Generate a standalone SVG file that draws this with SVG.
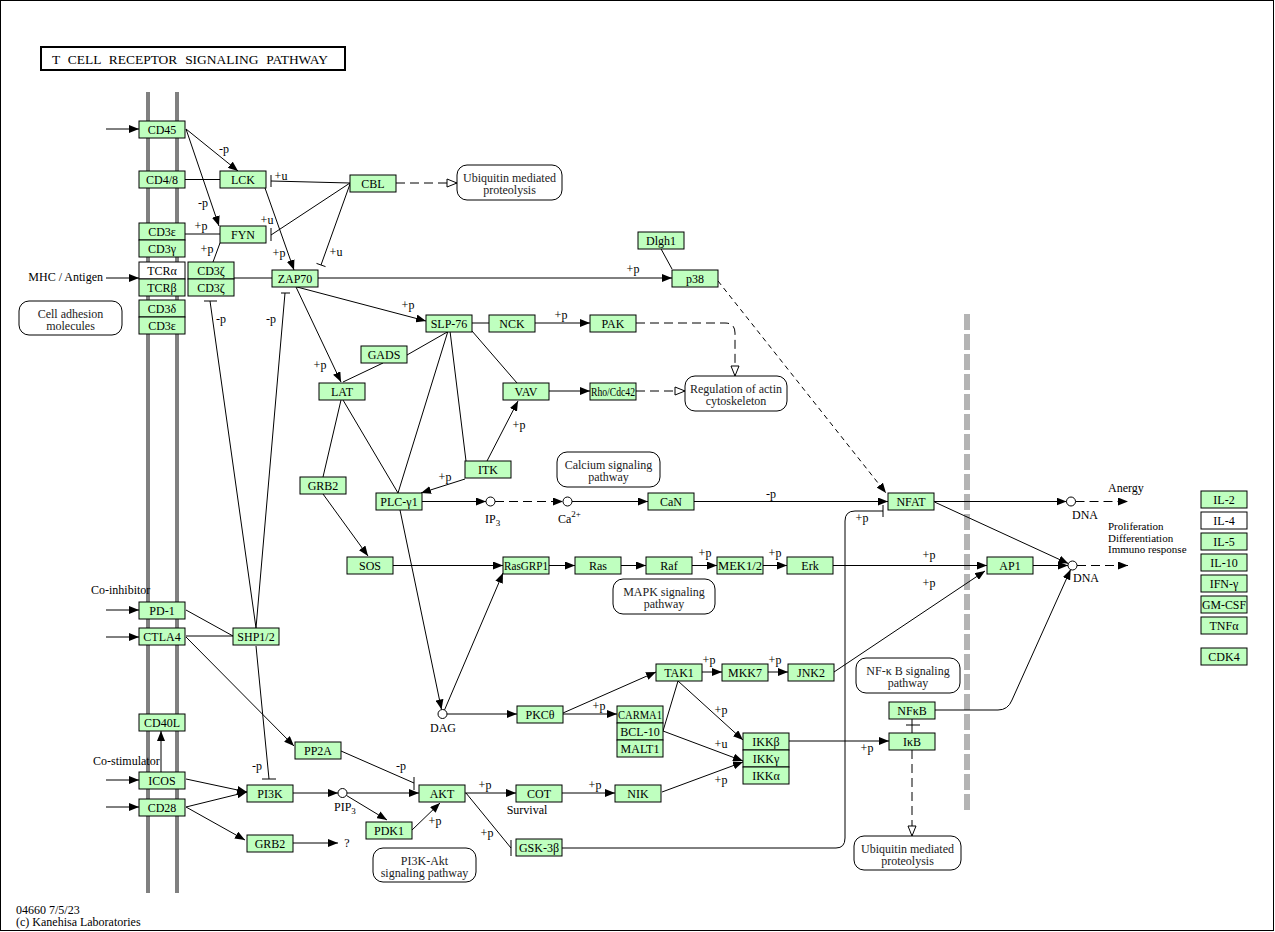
<svg xmlns="http://www.w3.org/2000/svg" width="1275" height="932" viewBox="0 0 1275 932">
<style>
.n rect{fill:#bfffbf;stroke:#000;stroke-width:1}
.n rect.w{fill:#fff}
text{font-family:"Liberation Serif","Times New Roman",serif;font-size:12px;fill:#000}
.n text{text-anchor:middle}
.m rect{fill:#fff;stroke:#000;stroke-width:1}
.m text{text-anchor:middle;fill:#222}
.e path,.e line{stroke:#000;stroke-width:1;fill:none}
.e .d{stroke-dasharray:9,5}
.e .ds{stroke-dasharray:5,4}
.l{font-size:12px;fill:#222}
.o{font-size:11px}
.c{fill:#fff;stroke:#000;stroke-width:1}
</style>
<defs>
<marker id="a" viewBox="0 0 10 8" refX="10" refY="4" markerWidth="10" markerHeight="8" markerUnits="userSpaceOnUse" orient="auto"><path d="M0,0 L10,4 L0,8 z" fill="#000"/></marker>
<marker id="h" viewBox="-1 -1 12 10" refX="10" refY="4" markerWidth="12" markerHeight="10" markerUnits="userSpaceOnUse" orient="auto"><path d="M0,0 L10,4 L0,8 z" fill="#fff" stroke="#000" stroke-width="1"/></marker>
</defs>
<rect x="0.5" y="0.5" width="1273" height="930" fill="#fff" stroke="#000"/>
<g id="title"><rect x="41" y="47" width="304" height="23" fill="#fff" stroke="#000" stroke-width="2"/><text x="52" y="64" font-size="13.5" word-spacing="4" textLength="276" lengthAdjust="spacingAndGlyphs">T CELL RECEPTOR SIGNALING PATHWAY</text></g>
<g id="membrane" stroke="#808080" stroke-width="4"><line x1="148" y1="92" x2="148" y2="893"/><line x1="177" y1="92" x2="177" y2="893"/></g>
<line id="nuclear" x1="967" y1="314" x2="967" y2="811" stroke="#b4b4b4" stroke-width="6" stroke-dasharray="16,4"/>
<g class="e" id="edges">
<path d="M106,129H139" marker-end="url(#a)"/>
<path d="M106,278H139" marker-end="url(#a)"/>
<path d="M106,610H139" marker-end="url(#a)"/>
<path d="M106,637H139" marker-end="url(#a)"/>
<path d="M106,780H139" marker-end="url(#a)"/>
<path d="M106,807H139" marker-end="url(#a)"/>
<path d="M186,129L238,171" marker-end="url(#a)"/>
<path d="M186,129L219,226" marker-end="url(#a)"/>
<path d="M265,188L294,270" marker-end="url(#a)"/>
<path d="M318,278H672" marker-end="url(#a)"/>
<path d="M297,287L426,321" marker-end="url(#a)"/>
<path d="M296,287L341,382" marker-end="url(#a)"/>
<path class="d" d="M396,183H457" marker-end="url(#h)"/>
<path class="d" d="M636,323H725Q735,323 735,333V376" marker-end="url(#h)"/>
<path class="d" d="M636,391H685" marker-end="url(#h)"/>
<path d="M535,323H590" marker-end="url(#a)"/>
<path d="M549,391H590" marker-end="url(#a)"/>
<path d="M487,461L518,401" marker-end="url(#a)"/>
<path d="M465,479L421,493" marker-end="url(#a)"/>
<path d="M421,501.5H486" marker-end="url(#a)"/>
<path class="d" d="M495,501.5H563" marker-end="url(#a)"/>
<path d="M572,501.5H648" marker-end="url(#a)"/>
<path d="M694,501.5H888" marker-end="url(#a)"/>
<path class="ds" d="M718,281L886,493" marker-end="url(#a)"/>
<path d="M934,501.5H1066.5" marker-end="url(#a)"/>
<path d="M934.5,502L1068.4,563.6" marker-end="url(#a)"/>
<path class="d" d="M1075.5,501.5H1128" marker-end="url(#a)"/>
<path class="d" d="M1077,565.5H1128" marker-end="url(#a)"/>
<path d="M833,565.5H987" marker-end="url(#a)"/>
<path d="M1033,565.5H1068" marker-end="url(#a)"/>
<path d="M834,672L985,571" marker-end="url(#a)"/>
<path d="M935,710H998Q1008,710 1012,700L1070.6,569.6" marker-end="url(#a)"/>
<path d="M400,510L441.5,709.5" marker-end="url(#a)"/>
<path d="M444.5,710L503,573" marker-end="url(#a)"/>
<path d="M323,494L368,556" marker-end="url(#a)"/>
<path d="M393,565.5H503" marker-end="url(#a)"/>
<path d="M549,565.5H575" marker-end="url(#a)"/>
<path d="M621,565.5H646" marker-end="url(#a)"/>
<path d="M692,565.5H717" marker-end="url(#a)"/>
<path d="M763,565.5H787" marker-end="url(#a)"/>
<path d="M447,714H517" marker-end="url(#a)"/>
<path d="M563,714H617" marker-end="url(#a)"/>
<path d="M563,713L656,672" marker-end="url(#a)"/>
<path d="M702,672H722" marker-end="url(#a)"/>
<path d="M768,672H788" marker-end="url(#a)"/>
<path d="M678,681L743,740" marker-end="url(#a)"/>
<path d="M663,731L743,761" marker-end="url(#a)"/>
<path d="M662,792L743,762" marker-end="url(#a)"/>
<path d="M789,741H889" marker-end="url(#a)"/>
<path d="M161,772V731" marker-end="url(#a)"/>
<path d="M186,779L247,792" marker-end="url(#a)"/>
<path d="M186,807L247,792" marker-end="url(#a)"/>
<path d="M186,807L245,840" marker-end="url(#a)"/>
<path d="M186,637L294,746" marker-end="url(#a)"/>
<path d="M293,793H338" marker-end="url(#a)"/>
<path d="M347,793H419" marker-end="url(#a)"/>
<path d="M346.5,795.5L387,820" marker-end="url(#a)"/>
<path d="M412,830L440,803" marker-end="url(#a)"/>
<path d="M465,793H516" marker-end="url(#a)"/>
<path d="M562,793H615" marker-end="url(#a)"/>
<path d="M293,843H338" marker-end="url(#a)"/>
<path class="d" d="M912,750V836" marker-end="url(#h)"/>
<path d="M185,179.5H220"/>
<path d="M185,234H220"/>
<path d="M213,262L220,243"/>
<path d="M234,278H272"/>
<path d="M660,247L672,269"/>
<path d="M472,323H489"/>
<path d="M343,382L383,363"/>
<path d="M407,355L449,331"/>
<path d="M448,331L398,493"/>
<path d="M450,331L466,461"/>
<path d="M472,331L517,383"/>
<path d="M341,400L323,477"/>
<path d="M343,400L398,493"/>
<path d="M186,610L233,636"/>
<path d="M186,636H233"/>
<path d="M678,681L663,731"/>
<path d="M912,719V733M906,725H920"/>
<path d="M350,183L271,181M271,175V187"/>
<path d="M350,183L271,235M271,228V241"/>
<path d="M350,184L321,265M316.5,263.4L325.5,266.6"/>
<path d="M256,628L210,301M204,301H217"/>
<path d="M256,628L285,293M281,293H290"/>
<path d="M256,646L269,779M262,779H276"/>
<path d="M341,751L414,783M414,777V790"/>
<path d="M466,793L511,848M511,840V856"/>
<path d="M562,848H836Q845,848 845,838V521Q845,511 855,511H883M883,505V517"/>
</g>
<g id="circles">
<circle class="c" cx="490.5" cy="501.5" r="4.5"/>
<circle class="c" cx="567.5" cy="501.5" r="4.5"/>
<circle class="c" cx="442.5" cy="714" r="4.5"/>
<circle class="c" cx="342.5" cy="793" r="4.5"/>
<circle class="c" cx="1071" cy="501.5" r="4.5"/>
<circle class="c" cx="1072.5" cy="565.5" r="4.5"/>
</g>
<g id="labels" class="l">
<text x="224" y="153" text-anchor="middle">-p</text>
<text x="203" y="207" text-anchor="middle">-p</text>
<text x="281" y="180" text-anchor="middle">+u</text>
<text x="267" y="224" text-anchor="middle">+u</text>
<text x="336" y="256" text-anchor="middle">+u</text>
<text x="201" y="230" text-anchor="middle">+p</text>
<text x="207" y="253" text-anchor="middle">+p</text>
<text x="279" y="257" text-anchor="middle">+p</text>
<text x="221" y="323" text-anchor="middle">-p</text>
<text x="271" y="323" text-anchor="middle">-p</text>
<text x="633" y="273" text-anchor="middle">+p</text>
<text x="408" y="309" text-anchor="middle">+p</text>
<text x="561" y="319" text-anchor="middle">+p</text>
<text x="320" y="369" text-anchor="middle">+p</text>
<text x="519" y="429" text-anchor="middle">+p</text>
<text x="445" y="481" text-anchor="middle">+p</text>
<text x="771" y="498" text-anchor="middle">-p</text>
<text x="862" y="522" text-anchor="middle">+p</text>
<text x="705" y="557" text-anchor="middle">+p</text>
<text x="775" y="557" text-anchor="middle">+p</text>
<text x="929" y="559" text-anchor="middle">+p</text>
<text x="929" y="587" text-anchor="middle">+p</text>
<text x="709" y="664" text-anchor="middle">+p</text>
<text x="775" y="664" text-anchor="middle">+p</text>
<text x="599" y="710" text-anchor="middle">+p</text>
<text x="721" y="714" text-anchor="middle">+p</text>
<text x="721" y="748" text-anchor="middle">+u</text>
<text x="721" y="784" text-anchor="middle">+p</text>
<text x="867" y="752" text-anchor="middle">+p</text>
<text x="257" y="770" text-anchor="middle">-p</text>
<text x="401" y="770" text-anchor="middle">-p</text>
<text x="485" y="789" text-anchor="middle">+p</text>
<text x="595" y="789" text-anchor="middle">+p</text>
<text x="435" y="825" text-anchor="middle">+p</text>
<text x="487" y="837" text-anchor="middle">+p</text>
<text x="103" y="281" text-anchor="end">MHC / Antigen</text>
<text x="91" y="594">Co-inhibitor</text>
<text x="93" y="765">Co-stimulator</text>
<text x="443" y="732" text-anchor="middle">DAG</text>
<text x="485" y="523">IP<tspan dy="3" font-size="9">3</tspan></text>
<text x="558" y="523">Ca<tspan dy="-6" font-size="9">2+</tspan></text>
<text x="334" y="811">PIP<tspan dy="3" font-size="9">3</tspan></text>
<text x="527" y="814" text-anchor="middle">Survival</text>
<text x="347" y="847" text-anchor="middle">?</text>
<text x="1072" y="519">DNA</text>
<text x="1073" y="582">DNA</text>
<text x="1108" y="492">Anergy</text>
<text class="o" x="1108" y="530">Proliferation</text>
<text class="o" x="1108" y="541.5">Differentiation</text>
<text class="o" x="1108" y="553">Immuno response</text>
<text x="16" y="914" font-size="11">04660 7/5/23</text>
<text x="16" y="926" font-size="11">(c) Kanehisa Laboratories</text>
</g>
<g class="m" id="map-ubiq1"><rect x="457" y="165" width="105" height="35" rx="10"/><text x="509.5" y="182">Ubiquitin mediated</text><text x="509.5" y="194">proteolysis</text></g>
<g class="m" id="map-actin"><rect x="685" y="376" width="102" height="35" rx="10"/><text x="736" y="393">Regulation of actin</text><text x="736" y="405">cytoskeleton</text></g>
<g class="m" id="map-adhesion"><rect x="19" y="301" width="103" height="34" rx="10"/><text x="70.5" y="318">Cell adhesion</text><text x="70.5" y="330">molecules</text></g>
<g class="m" id="map-calcium"><rect x="557" y="452" width="103" height="35" rx="10"/><text x="608.5" y="469">Calcium signaling</text><text x="608.5" y="481">pathway</text></g>
<g class="m" id="map-mapk"><rect x="613" y="579" width="102" height="35" rx="10"/><text x="664" y="596">MAPK signaling</text><text x="664" y="608">pathway</text></g>
<g class="m" id="map-nfkb"><rect x="856" y="658" width="104" height="35" rx="10"/><text x="908" y="675">NF-κ B signaling</text><text x="908" y="687">pathway</text></g>
<g class="m" id="map-ubiq2"><rect x="854" y="836" width="107" height="34" rx="10"/><text x="907.5" y="853">Ubiquitin mediated</text><text x="907.5" y="865">proteolysis</text></g>
<g class="m" id="map-pi3k"><rect x="373" y="848" width="103" height="34" rx="10"/><text x="424.5" y="865">PI3K-Akt</text><text x="424.5" y="877">signaling pathway</text></g>
<g class="n" id="CD45"><rect x="139" y="121" width="46" height="17"/><text x="162" y="134">CD45</text></g>
<g class="n" id="CD48"><rect x="139" y="171" width="46" height="17"/><text x="162" y="184">CD4/8</text></g>
<g class="n" id="CD3e1"><rect x="139" y="223" width="46" height="17"/><text x="162" y="236">CD3ε</text></g>
<g class="n" id="CD3g"><rect x="139" y="240" width="46" height="17"/><text x="162" y="253">CD3γ</text></g>
<g class="n" id="TCRa"><rect class="w" x="139" y="262" width="46" height="17"/><text x="162" y="275">TCRα</text></g>
<g class="n" id="TCRb"><rect x="139" y="279" width="46" height="17"/><text x="162" y="292">TCRβ</text></g>
<g class="n" id="CD3d"><rect x="139" y="300" width="46" height="17"/><text x="162" y="313">CD3δ</text></g>
<g class="n" id="CD3e2"><rect x="139" y="317" width="46" height="17"/><text x="162" y="330">CD3ε</text></g>
<g class="n" id="CD3z1"><rect x="188" y="262" width="46" height="17"/><text x="211" y="275">CD3ζ</text></g>
<g class="n" id="CD3z2"><rect x="188" y="279" width="46" height="17"/><text x="211" y="292">CD3ζ</text></g>
<g class="n" id="LCK"><rect x="220" y="171" width="46" height="17"/><text x="243" y="184">LCK</text></g>
<g class="n" id="FYN"><rect x="220" y="226" width="46" height="17"/><text x="243" y="239">FYN</text></g>
<g class="n" id="ZAP70"><rect x="272" y="270" width="46" height="17"/><text x="295" y="283">ZAP70</text></g>
<g class="n" id="CBL"><rect x="350" y="175" width="46" height="17"/><text x="373" y="188">CBL</text></g>
<g class="n" id="Dlgh1"><rect x="638" y="232" width="46" height="17"/><text x="661" y="245">Dlgh1</text></g>
<g class="n" id="p38"><rect x="672" y="270" width="46" height="17"/><text x="695" y="283">p38</text></g>
<g class="n" id="SLP76"><rect x="426" y="315" width="46" height="17"/><text x="449" y="328">SLP-76</text></g>
<g class="n" id="NCK"><rect x="489" y="315" width="46" height="17"/><text x="512" y="328">NCK</text></g>
<g class="n" id="PAK"><rect x="590" y="315" width="46" height="17"/><text x="613" y="328">PAK</text></g>
<g class="n" id="GADS"><rect x="361" y="346" width="46" height="17"/><text x="384" y="359">GADS</text></g>
<g class="n" id="LAT"><rect x="319" y="383" width="46" height="17"/><text x="342" y="396">LAT</text></g>
<g class="n" id="VAV"><rect x="503" y="383" width="46" height="17"/><text x="526" y="396">VAV</text></g>
<g class="n" id="RhoCdc42"><rect x="590" y="383" width="46" height="17"/><text x="613" y="396" textLength="44" lengthAdjust="spacingAndGlyphs">Rho/Cdc42</text></g>
<g class="n" id="ITK"><rect x="465" y="461" width="46" height="17"/><text x="488" y="474">ITK</text></g>
<g class="n" id="GRB2a"><rect x="300" y="477" width="46" height="17"/><text x="323" y="490">GRB2</text></g>
<g class="n" id="PLCg1"><rect x="376" y="493" width="46" height="17"/><text x="399" y="506">PLC-γ1</text></g>
<g class="n" id="CaN"><rect x="648" y="493" width="46" height="17"/><text x="671" y="506">CaN</text></g>
<g class="n" id="NFAT"><rect x="888" y="493" width="46" height="17"/><text x="911" y="506">NFAT</text></g>
<g class="n" id="SOS"><rect x="347" y="557" width="46" height="17"/><text x="370" y="570">SOS</text></g>
<g class="n" id="RasGRP1"><rect x="503" y="557" width="46" height="17"/><text x="526" y="570" textLength="44" lengthAdjust="spacingAndGlyphs">RasGRP1</text></g>
<g class="n" id="Ras"><rect x="575" y="557" width="46" height="17"/><text x="598" y="570">Ras</text></g>
<g class="n" id="Raf"><rect x="646" y="557" width="46" height="17"/><text x="669" y="570">Raf</text></g>
<g class="n" id="MEK12"><rect x="717" y="557" width="46" height="17"/><text x="740" y="570" textLength="44" lengthAdjust="spacingAndGlyphs">MEK1/2</text></g>
<g class="n" id="Erk"><rect x="787" y="557" width="46" height="17"/><text x="810" y="570">Erk</text></g>
<g class="n" id="AP1"><rect x="987" y="557" width="46" height="17"/><text x="1010" y="570">AP1</text></g>
<g class="n" id="PD1"><rect x="139" y="602" width="46" height="17"/><text x="162" y="615">PD-1</text></g>
<g class="n" id="CTLA4"><rect x="139" y="628" width="46" height="17"/><text x="162" y="641">CTLA4</text></g>
<g class="n" id="SHP12"><rect x="233" y="628" width="46" height="17"/><text x="256" y="641">SHP1/2</text></g>
<g class="n" id="CD40L"><rect x="139" y="714" width="46" height="17"/><text x="162" y="727">CD40L</text></g>
<g class="n" id="ICOS"><rect x="139" y="772" width="46" height="17"/><text x="162" y="785">ICOS</text></g>
<g class="n" id="CD28"><rect x="139" y="799" width="46" height="17"/><text x="162" y="812">CD28</text></g>
<g class="n" id="PI3K"><rect x="247" y="785" width="46" height="17"/><text x="270" y="798">PI3K</text></g>
<g class="n" id="GRB2b"><rect x="247" y="835" width="46" height="17"/><text x="270" y="848">GRB2</text></g>
<g class="n" id="PP2A"><rect x="295" y="742" width="46" height="17"/><text x="318" y="755">PP2A</text></g>
<g class="n" id="TAK1"><rect x="656" y="664" width="46" height="17"/><text x="679" y="677">TAK1</text></g>
<g class="n" id="MKK7"><rect x="722" y="664" width="46" height="17"/><text x="745" y="677">MKK7</text></g>
<g class="n" id="JNK2"><rect x="788" y="664" width="46" height="17"/><text x="811" y="677">JNK2</text></g>
<g class="n" id="PKCt"><rect x="517" y="706" width="46" height="17"/><text x="540" y="719">PKCθ</text></g>
<g class="n" id="CARMA1"><rect x="617" y="706" width="46" height="17"/><text x="640" y="719" textLength="44" lengthAdjust="spacingAndGlyphs">CARMA1</text></g>
<g class="n" id="BCL10"><rect x="617" y="723" width="46" height="17"/><text x="640" y="736">BCL-10</text></g>
<g class="n" id="MALT1"><rect x="617" y="740" width="46" height="17"/><text x="640" y="753">MALT1</text></g>
<g class="n" id="IKKb"><rect x="743" y="733" width="46" height="17"/><text x="766" y="746">IKKβ</text></g>
<g class="n" id="IKKg"><rect x="743" y="750" width="46" height="17"/><text x="766" y="763">IKKγ</text></g>
<g class="n" id="IKKa"><rect x="743" y="767" width="46" height="17"/><text x="766" y="780">IKKα</text></g>
<g class="n" id="NFkB"><rect x="889" y="702" width="46" height="17"/><text x="912" y="715">NFκB</text></g>
<g class="n" id="IkB"><rect x="889" y="733" width="46" height="17"/><text x="912" y="746">IκB</text></g>
<g class="n" id="AKT"><rect x="419" y="785" width="46" height="17"/><text x="442" y="798">AKT</text></g>
<g class="n" id="COT"><rect x="516" y="785" width="46" height="17"/><text x="539" y="798">COT</text></g>
<g class="n" id="NIK"><rect x="615" y="785" width="46" height="17"/><text x="638" y="798">NIK</text></g>
<g class="n" id="PDK1"><rect x="366" y="822" width="46" height="17"/><text x="389" y="835">PDK1</text></g>
<g class="n" id="GSK3b"><rect x="516" y="839" width="46" height="17"/><text x="539" y="852">GSK-3β</text></g>
<g class="n" id="IL2"><rect x="1201" y="491" width="46" height="17"/><text x="1224" y="504">IL-2</text></g>
<g class="n" id="IL4"><rect class="w" x="1201" y="512" width="46" height="17"/><text x="1224" y="525">IL-4</text></g>
<g class="n" id="IL5"><rect x="1201" y="533" width="46" height="17"/><text x="1224" y="546">IL-5</text></g>
<g class="n" id="IL10"><rect x="1201" y="554" width="46" height="17"/><text x="1224" y="567">IL-10</text></g>
<g class="n" id="IFNg"><rect x="1201" y="575" width="46" height="17"/><text x="1224" y="588">IFN-γ</text></g>
<g class="n" id="GMCSF"><rect x="1201" y="596" width="46" height="17"/><text x="1224" y="609" textLength="44" lengthAdjust="spacingAndGlyphs">GM-CSF</text></g>
<g class="n" id="TNFa"><rect x="1201" y="617" width="46" height="17"/><text x="1224" y="630">TNFα</text></g>
<g class="n" id="CDK4"><rect x="1201" y="648" width="46" height="17"/><text x="1224" y="661">CDK4</text></g>
</svg>
